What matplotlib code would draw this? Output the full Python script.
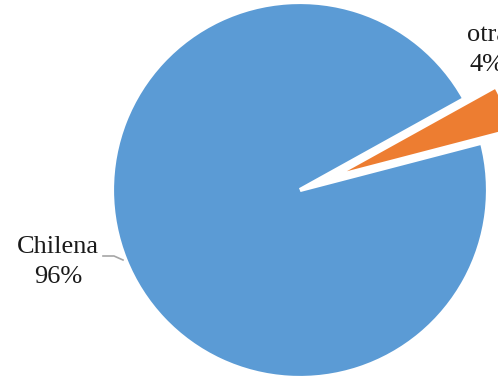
import matplotlib.pyplot as plt
import numpy as np

labels = ['otra', 'Chilena']
values = [4, 96]
colors = ['#ED7D31', '#5B9BD5']

W, H = 498, 379
cx, cy, r = 300, 190, 188   # pie centre and radius in pixels

fig = plt.figure(figsize=(W / 100, H / 100), dpi=100)
ax = fig.add_axes([0, 0, 1, 1])

ax.pie(values, colors=colors, startangle=14.6, counterclock=True,
       explode=[0.18, 0], radius=1,
       wedgeprops=dict(edgecolor='white', linewidth=3))

ax.set_xlim(-cx / r, (W - cx) / r)
ax.set_ylim(-(H - cy) / r, cy / r)
ax.set_aspect('auto')
ax.axis('off')

def px(x, y):
    ''' pixel position to data coords'''
    return (x - cx) / r, (cy - y) / r

# labels
font = dict(family='Liberation Serif', fontsize=19, ha='center', va='center',
            linespacing=1.45, color='#1a1a1a')
ax.text(*px(58, 262), 'Chilena\n96%', **font)
ax.text(*px(487, 50), 'otra\n4%', **font)

# leader line for Chilena
x0, y0 = px(103, 256)
x1, y1 = px(114, 256)
x2, y2 = px(123, 260)
ax.plot([x0, x1, x2], [y0, y1, y2], color='#a6a6a6', lw=1.2)

plt.savefig('out.png', dpi=100)
